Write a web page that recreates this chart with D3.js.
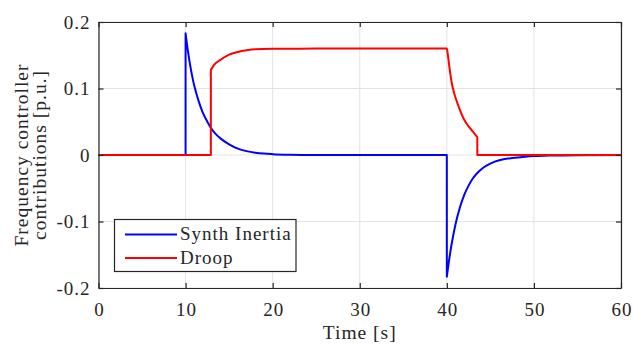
<!DOCTYPE html>
<html>
<head>
<meta charset="utf-8">
<script src="https://cdn.jsdelivr.net/npm/d3@7"></script>
<style>
  body { margin: 0; background: #fff; }
  svg text { font-family: "Liberation Serif", "DejaVu Serif", serif !important; fill: #262626; letter-spacing: 1px; }
</style>
</head>
<body>
<div id="chart"></div>
<script>
// values
var synthTime = [0, 9.999, 10, 10.25, 10.5, 10.75, 11, 11.5, 12, 12.5, 13, 13.5, 14, 15, 16, 17, 18, 19, 20, 22, 25, 30, 39.999,
  40, 40.25, 40.5, 40.75, 41, 41.5, 42, 42.5, 43, 43.5, 44, 44.5, 45.5, 46.5, 47.5, 49, 50, 52, 55, 60];
var synthValue = [0, 0, 0.183, 0.158, 0.137, 0.119, 0.104, 0.081, 0.063, 0.050, 0.039, 0.031, 0.025, 0.016, 0.0095, 0.0058, 0.0035, 0.0021, 0.0013, 0.0005, 0.0001, 0, 0,
  -0.183, -0.159, -0.138, -0.120, -0.104, -0.079, -0.060, -0.046, -0.035, -0.027, -0.021, -0.0165, -0.010, -0.0065, -0.0045, -0.0025, -0.0016, -0.0007, -0.0002, 0];

var droopTime = [0, 12.9, 12.902, 13.3, 14, 15, 16, 17, 18, 20, 25, 40, 40.1, 40.25, 40.4, 40.6, 40.8, 41, 41.5, 42, 42.5, 43, 43.5, 43.502, 60];
var droopValue = [0, 0, 0.128, 0.136, 0.143, 0.151, 0.155, 0.1575, 0.159, 0.1597, 0.16, 0.16, 0.152, 0.137, 0.122, 0.106, 0.095, 0.086, 0.068, 0.053, 0.043, 0.035, 0.027, 0, 0];

var xTicks = [0, 10, 20, 30, 40, 50, 60];
var yTicks = [0.2, 0.1, 0, -0.1, -0.2];
var yTickLabels = ["0.2", "0.1", "0", "-0.1", "-0.2"];
var seriesNames = ["Synth Inertia", "Droop"];
var seriesColors = ["#0000ff", "#ff0000"];

var svgWidth = 633;
var svgHeight = 345;
var margin = { top: 22, right: 12, bottom: 57, left: 98.5 };
var width = svgWidth - margin.left - margin.right;
var height = svgHeight - margin.top - margin.bottom;
var fontFamily = "'Liberation Serif', 'DejaVu Serif', serif";

var svg = d3.select("#chart")
  .append("svg")
  .attr("width", svgWidth)
  .attr("height", svgHeight);

var chartGroup = svg.append("g")
  .attr("transform", `translate(${margin.left}, ${margin.top})`);

var xScale = d3.scaleLinear().domain([0, 60]).range([0, width]);
var yScale = d3.scaleLinear().domain([-0.2, 0.2]).range([height, 0]);

// grid
chartGroup.append("g").selectAll("line")
  .data(xTicks)
  .enter()
  .append("line")
  .attr("x1", d => xScale(d)).attr("x2", d => xScale(d))
  .attr("y1", 0).attr("y2", height)
  .attr("stroke", "#e3e3e3").attr("stroke-width", 1);

chartGroup.append("g").selectAll("line")
  .data(yTicks)
  .enter()
  .append("line")
  .attr("y1", d => yScale(d)).attr("y2", d => yScale(d))
  .attr("x1", 0).attr("x2", width)
  .attr("stroke", "#e3e3e3").attr("stroke-width", 1);

// split a series into continuous pieces at the jumps, join them with straight segments
function buildPath(ts, vs) {
  var pieces = [];
  var cur = [];
  for (var i = 0; i < ts.length; i++) {
    if (i > 0 && ts[i] - ts[i - 1] < 0.01) {
      pieces.push(cur);
      cur = [];
    }
    cur.push([ts[i], vs[i]]);
  }
  pieces.push(cur);
  var line = d3.line()
    .x(d => xScale(d[0]))
    .y(d => yScale(d[1]))
    .curve(d3.curveMonotoneX);
  return pieces.map((p, k) => {
    var s = p.length > 1 ? line(p) : `M${xScale(p[0][0])},${yScale(p[0][1])}`;
    return k === 0 ? s : "L" + s.slice(1);
  }).join("");
}

var series = [[synthTime, synthValue], [droopTime, droopValue]];

chartGroup.selectAll(".series")
  .data(series)
  .enter()
  .append("path")
  .classed("series", true)
  .attr("d", d => buildPath(d[0], d[1]))
  .attr("fill", "none")
  .attr("stroke", (d, i) => seriesColors[i])
  .attr("stroke-width", 2)
  .attr("stroke-linejoin", "round");

// axes (ticks pointing inward, box on all sides)
var axisColor = "#262626";
function styleAxis(g) {
  g.attr("font-family", fontFamily);
  g.select(".domain").attr("stroke", axisColor).attr("stroke-width", 1.2);
  g.selectAll(".tick line").attr("stroke", axisColor).attr("stroke-width", 1.2);
  g.selectAll("text").attr("font-size", 19).attr("fill", axisColor);
}

chartGroup.append("g")
  .attr("transform", `translate(0, ${height})`)
  .call(d3.axisBottom(xScale).tickValues(xTicks).tickSizeInner(-5).tickSizeOuter(0).tickPadding(14.5))
  .call(styleAxis)
  .selectAll("text").attr("dx", "0.5px");

chartGroup.append("g")
  .call(d3.axisTop(xScale).tickValues(xTicks).tickSizeInner(-5).tickSizeOuter(0).tickFormat(""))
  .call(styleAxis);

chartGroup.append("g")
  .call(d3.axisLeft(yScale).tickValues(yTicks).tickSizeInner(-5).tickSizeOuter(0).tickPadding(8)
    .tickFormat((d, i) => yTickLabels[i]))
  .call(styleAxis);

chartGroup.append("g")
  .attr("transform", `translate(${width}, 0)`)
  .call(d3.axisRight(yScale).tickValues(yTicks).tickSizeInner(-5).tickSizeOuter(0).tickFormat(""))
  .call(styleAxis);

svg.selectAll(".domain").attr("fill", "none");

// axis labels
chartGroup.append("text")
  .attr("x", width / 2)
  .attr("y", height + 51)
  .attr("text-anchor", "middle")
  .attr("font-family", fontFamily)
  .attr("font-size", 19.5)
  .text("Time [s]");

var yLabel = svg.append("text")
  .attr("transform", `translate(0, ${margin.top + height / 2}) rotate(-90)`)
  .attr("text-anchor", "middle")
  .attr("font-family", fontFamily)
  .attr("font-size", 19.5);
yLabel.append("tspan").attr("x", 0).attr("y", 28).text("Frequency controller");
yLabel.append("tspan").attr("x", 0).attr("y", 46).text("contributions [p.u.]");

// legend
var legend = svg.append("g").attr("transform", "translate(114.5, 219.5)");
legend.append("rect")
  .attr("width", 181.5).attr("height", 52)
  .attr("fill", "#fff").attr("stroke", axisColor).attr("stroke-width", 1.2);

var items = legend.selectAll(".item")
  .data(seriesNames)
  .enter()
  .append("g")
  .attr("transform", (d, i) => `translate(0, ${15 + i * 23.5})`);
items.append("line")
  .attr("x1", 10.5).attr("x2", 62.5)
  .attr("stroke", (d, i) => seriesColors[i]).attr("stroke-width", 2);
items.append("text")
  .attr("x", 65.5).attr("y", 5.5)
  .attr("font-family", fontFamily)
  .attr("font-size", 19)
  .text(d => d);
</script>
</body>
</html>
